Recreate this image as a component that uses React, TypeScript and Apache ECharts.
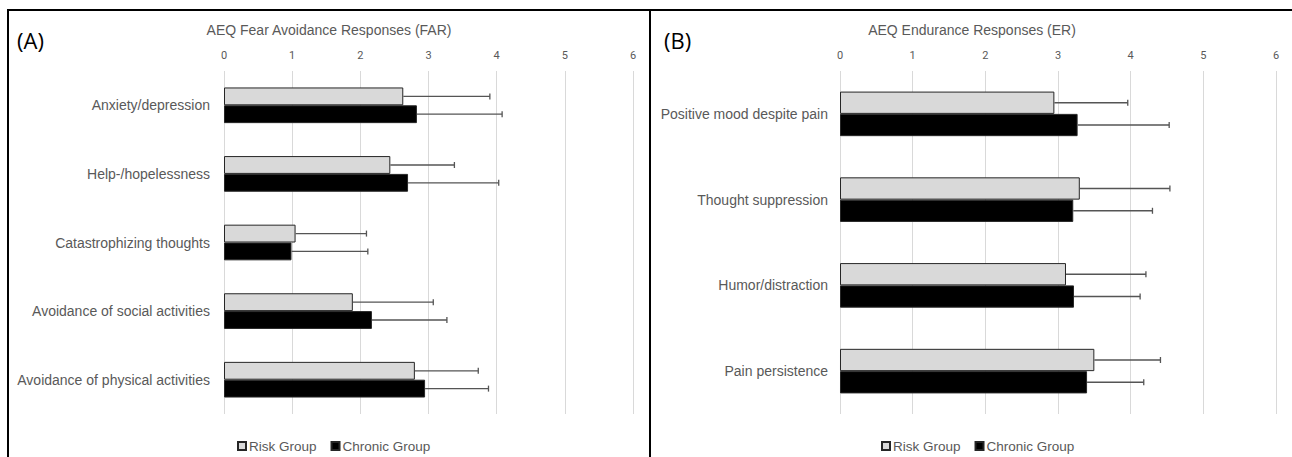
import React, { useEffect, useRef } from "react";
import * as echarts from "echarts";

const farCategories = [
  "Anxiety/depression",
  "Help-/hopelessness",
  "Catastrophizing thoughts",
  "Avoidance of social activities",
  "Avoidance of physical activities",
];
const farRisk = [2.63, 2.44, 1.05, 1.89, 2.8];
const farRiskSd = [1.27, 0.94, 1.04, 1.18, 0.93];
const farChronic = [2.83, 2.7, 0.99, 2.17, 2.95];
const farChronicSd = [1.25, 1.33, 1.12, 1.1, 0.93];

const erCategories = [
  "Positive mood despite pain",
  "Thought suppression",
  "Humor/distraction",
  "Pain persistence",
];
const erRisk = [2.95, 3.3, 3.11, 3.5];
const erRiskSd = [1.01, 1.24, 1.1, 0.91];
const erChronic = [3.27, 3.21, 3.22, 3.4];
const erChronicSd = [1.26, 1.09, 0.91, 0.78];

const xTicks = [0, 1, 2, 3, 4, 5, 6];
const seriesNames = ["Risk Group", "Chronic Group"];
const panelTitles = ["AEQ Fear Avoidance Responses (FAR)", "AEQ Endurance Responses (ER)"];
const panelLabels = ["(A)", "(B)"];

const BAR_FILL = 0.52;
const TXT = "#595959";
const SANS = "'Liberation Sans', Arial, sans-serif";

function errorSeries(name: string, means: number[], sds: number[], idx: number, sign: number) {
  return {
    name,
    type: "custom",
    xAxisIndex: idx,
    yAxisIndex: idx,
    z: 5,
    silent: true,
    data: means.map((m, i) => [m, m + sds[i], i]),
    encode: { x: [0, 1], y: 2 },
    renderItem: (params: any, api: any) => {
      const cat = api.value(2);
      const s = api.coord([api.value(0), cat]);
      const e = api.coord([api.value(1), cat]);
      const band = api.size([0, 1])[1];
      const barH = (band * BAR_FILL) / 2;
      const y = s[1] + (sign * barH) / 2;
      const style = { stroke: "#555555", lineWidth: 1.3 };
      return {
        type: "group",
        children: [
          { type: "line", shape: { x1: s[0], y1: y, x2: e[0], y2: y }, style },
          { type: "line", shape: { x1: e[0], y1: y - 3, x2: e[0], y2: y + 3 }, style },
        ],
      };
    },
  };
}

function barSeries(name: string, data: number[], idx: number, color: string) {
  return {
    name,
    type: "bar",
    xAxisIndex: idx,
    yAxisIndex: idx,
    data,
    barGap: "0%",
    barCategoryGap: "48%",
    itemStyle: { color, borderColor: "#262626", borderWidth: 1 },
  };
}

export default function App() {
  const ref = useRef<HTMLDivElement>(null);
  useEffect(() => {
    if (!ref.current) return;
    const chart = echarts.init(ref.current, undefined, { renderer: "svg" });
    const xAxis = (gridIndex: number) => ({
      type: "value",
      gridIndex,
      position: "top",
      min: xTicks[0],
      max: xTicks[xTicks.length - 1],
      interval: 1,
      axisLine: { show: false },
      axisTick: { show: false },
      splitLine: { lineStyle: { color: "#d9d9d9", width: 1 } },
      axisLabel: { color: TXT, fontSize: 11, margin: 10, fontFamily: "Roboto, sans-serif" },
    });
    const yAxis = (gridIndex: number, data: string[], margin: number) => ({
      type: "category",
      gridIndex,
      inverse: true,
      data,
      axisLine: { show: false },
      axisTick: { show: false },
      axisLabel: { color: TXT, fontSize: 14, margin, fontFamily: SANS },
    });
    const legend = (left: number) => ({
      data: seriesNames,
      left,
      top: 434,
      itemWidth: 8,
      itemHeight: 8,
      itemGap: 14,
      icon: "rect",
      textStyle: { color: TXT, fontSize: 13.5, fontFamily: SANS, padding: [0, 0, 0, -2] },
    });
    chart.setOption({
      animation: false,
      grid: [
        { left: 224, right: 1292 - 633, top: 71, bottom: 457 - 414 },
        { left: 840, right: 1292 - 1276, top: 71, bottom: 457 - 414 },
      ],
      xAxis: [xAxis(0), xAxis(1)],
      yAxis: [yAxis(0, farCategories, 14), yAxis(1, erCategories, 12)],
      legend: [legend(232), legend(876)],
      series: [
        barSeries(seriesNames[0], farRisk, 0, "#d9d9d9"),
        barSeries(seriesNames[1], farChronic, 0, "#000000"),
        barSeries(seriesNames[0], erRisk, 1, "#d9d9d9"),
        barSeries(seriesNames[1], erChronic, 1, "#000000"),
        errorSeries("Risk SD A", farRisk, farRiskSd, 0, -1),
        errorSeries("Chronic SD A", farChronic, farChronicSd, 0, 1),
        errorSeries("Risk SD B", erRisk, erRiskSd, 1, -1),
        errorSeries("Chronic SD B", erChronic, erChronicSd, 1, 1),
      ],
      graphic: [
        { type: "line", shape: { x1: 7, y1: 10, x2: 1292, y2: 10 }, style: { stroke: "#000", lineWidth: 2 } },
        { type: "line", shape: { x1: 8, y1: 9, x2: 8, y2: 457 }, style: { stroke: "#000", lineWidth: 2 } },
        { type: "line", shape: { x1: 650, y1: 9, x2: 650, y2: 457 }, style: { stroke: "#000", lineWidth: 2 } },
        {
          type: "text",
          x: 17,
          y: 40,
          style: { text: panelLabels[0], fontSize: 22, fontFamily: "'Open Sans', sans-serif", fill: "#000", verticalAlign: "middle" },
        },
        {
          type: "text",
          x: 664,
          y: 40,
          style: { text: panelLabels[1], fontSize: 22, fontFamily: "'Open Sans', sans-serif", fill: "#000", verticalAlign: "middle" },
        },
        {
          type: "text",
          x: 329,
          y: 30,
          style: { text: panelTitles[0], fontSize: 14, fontFamily: SANS, fill: TXT, align: "center", verticalAlign: "middle" },
        },
        {
          type: "text",
          x: 972,
          y: 30,
          style: { text: panelTitles[1], fontSize: 14, fontFamily: SANS, fill: TXT, align: "center", verticalAlign: "middle" },
        },
      ],
    });
    return () => chart.dispose();
  }, []);
  return <div ref={ref} style={{ position: "fixed", left: 0, top: 0, width: 1292, height: 457, background: "#fff" }} />;
}
